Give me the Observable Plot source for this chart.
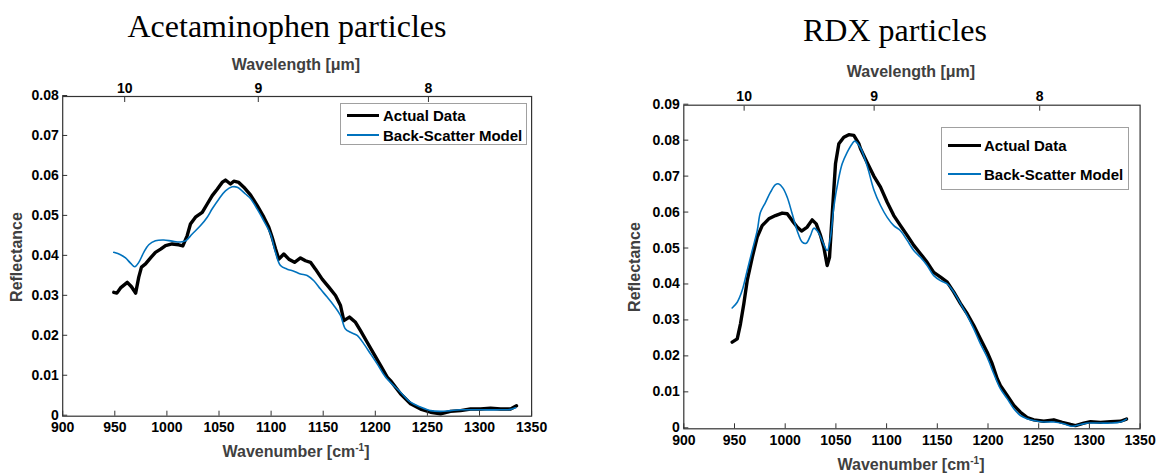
<!DOCTYPE html>
<html><head><meta charset="utf-8">
<script src="https://cdn.jsdelivr.net/npm/d3@7"></script>
<script src="https://cdn.jsdelivr.net/npm/@observablehq/plot@0.6"></script>
<style>
body{margin:0;background:#fff;}
#root{position:relative;width:1156px;height:474px;overflow:hidden;font-family:"Liberation Sans",Arial,sans-serif;}
.abs{position:absolute;}
.title{font-family:"Liberation Serif","Times New Roman",serif;font-size:32px;white-space:nowrap;transform:translateX(-50%);line-height:32px;color:#000;}
.axlab{font-weight:bold;font-size:16px;color:#404040;white-space:nowrap;transform:translate(-50%,-50%);line-height:16px;}
.ylab{transform:translate(-50%,-50%) rotate(-90deg);}
.legend{border:1px solid #a0a0a0;background:#fff;font-weight:bold;font-size:15px;color:#000;box-sizing:border-box;}
.legend .t{position:absolute;white-space:nowrap;line-height:15px;transform:translateY(-50%);}
.legend .l{position:absolute;}
sup{font-size:10px;vertical-align:6px;line-height:0;}
</style></head>
<body><div id="root">
<div class="abs title" style="left:287px;top:10px;">Acetaminophen particles</div>
<div class="abs title" style="left:895px;top:14px;">RDX particles</div>
<div class="abs axlab" style="left:296px;top:65px;">Wavelength [μm]</div>
<div class="abs axlab" style="left:911px;top:72px;">Wavelength [μm]</div>
<div class="abs axlab" style="left:296px;top:452px;">Wavenumber [cm<sup>-1</sup>]</div>
<div class="abs axlab" style="left:911px;top:465px;">Wavenumber [cm<sup>-1</sup>]</div>
<div class="abs axlab ylab" style="left:17px;top:257px;">Reflectance</div>
<div class="abs axlab ylab" style="left:635px;top:267px;">Reflectance</div>
<div id="p1" class="abs" style="left:0;top:50px;"></div>
<div id="p2" class="abs" style="left:600px;top:50px;"></div>
<div class="abs legend" style="left:340px;top:103px;width:187px;height:42px;">
  <div class="l" style="left:6px;top:10px;width:32px;height:3px;background:#000;"></div>
  <div class="t" style="left:42px;top:11px;">Actual Data</div>
  <div class="l" style="left:6px;top:30px;width:32px;height:2px;background:#0072BD;"></div>
  <div class="t" style="left:42px;top:31px;">Back-Scatter Model</div>
</div>
<div class="abs legend" style="left:941px;top:127px;width:188px;height:63px;">
  <div class="l" style="left:6px;top:16px;width:33px;height:3px;background:#000;"></div>
  <div class="t" style="left:42px;top:17px;">Actual Data</div>
  <div class="l" style="left:6px;top:45px;width:33px;height:2px;background:#0072BD;"></div>
  <div class="t" style="left:42px;top:46px;">Back-Scatter Model</div>
</div>
</div>
<script>
// ---- shared axis ticks ----
const xTicks = [900, 950, 1000, 1050, 1100, 1150, 1200, 1250, 1300, 1350];
const topTickWn = [959.5, 1087.7, 1251];
const topTickLabels = ["10", "9", "8"];
const acetYTicks = [0, 0.01, 0.02, 0.03, 0.04, 0.05, 0.06, 0.07, 0.08];
const rdxYTicks = [0, 0.01, 0.02, 0.03, 0.04, 0.05, 0.06, 0.07, 0.08, 0.09];

// ---- Acetaminophen: actual data ----
const acetActualWn = [949,952,955.5,962,966,970,973,975.6,979.5,984.3,989,994,998.7,1005,1011.4,1015.3,1019.5,1022.6,1027.4,1033.9,1038.7,1043.5,1048.3,1053,1056.2,1061,1064.2,1069,1073.8,1080.2,1086.7,1093,1097.8,1101,1104.2,1107.4,1112.2,1117,1122.5,1128.2,1133,1137.8,1142.6,1149,1155.4,1161.8,1166.6,1169.8,1175.2,1181,1185.8,1192.2,1198.6,1205,1211.4,1214.6,1224.2,1233.8,1243.4,1253,1262.6,1272.2,1281.8,1291.4,1301,1310.6,1320.2,1329.8,1335.5];
const acetActualR = [0.0310,0.0308,0.0321,0.0335,0.0324,0.0308,0.0348,0.0373,0.0381,0.0396,0.0410,0.0418,0.0427,0.0431,0.0429,0.0426,0.0452,0.0481,0.0498,0.0510,0.0531,0.0552,0.0568,0.0585,0.0591,0.0581,0.0588,0.0585,0.0573,0.0554,0.0527,0.0498,0.0473,0.0448,0.0419,0.0393,0.0406,0.0393,0.0385,0.0396,0.0389,0.0385,0.0368,0.0343,0.0323,0.0302,0.0277,0.0239,0.0248,0.0235,0.0214,0.0185,0.0156,0.0127,0.0098,0.0089,0.0056,0.0031,0.0018,0.0010,0.0006,0.0012,0.0014,0.0018,0.0018,0.0020,0.0018,0.0018,0.0026];
// ---- Acetaminophen: back-scatter model ----
const acetModelWn = [949,955.5,960.3,965.1,969.2,973,977.8,982.6,989,997,1005,1013,1018,1024.3,1032.3,1038.7,1043.5,1049.8,1056.2,1062.7,1067.5,1075.4,1080.2,1086.7,1093,1099.4,1104.2,1109,1115.4,1121.8,1128.2,1134.6,1141,1147.4,1153.8,1160.2,1166.6,1171.4,1176.2,1182.6,1189,1195.4,1201.8,1209.8,1224.2,1233.8,1243.4,1253,1262.6,1272.2,1281.8,1301,1320.2,1329.8,1334.6];
const acetModelR = [0.0410,0.0404,0.0396,0.0383,0.0374,0.0385,0.0410,0.0429,0.0439,0.0441,0.0438,0.0436,0.0439,0.0456,0.0477,0.0498,0.0519,0.0543,0.0564,0.0574,0.0573,0.0556,0.0545,0.0518,0.0489,0.0456,0.0410,0.0377,0.0368,0.0363,0.0356,0.0352,0.0339,0.0318,0.0298,0.0277,0.0252,0.0218,0.0210,0.0202,0.0181,0.0156,0.0131,0.0098,0.0060,0.0035,0.0023,0.0014,0.0012,0.0014,0.0016,0.0016,0.0016,0.0017,0.0021];

// ---- RDX: actual data ----
const rdxActualWn = [947.7,952.7,955.9,959.2,962.5,967.5,972.4,977.3,983.8,990.4,997,1002,1006.9,1011.8,1016.1,1021.7,1026.6,1030.6,1034.8,1038.1,1041.4,1043.7,1046.4,1049.6,1052.9,1057.8,1062.7,1067.7,1072.6,1074.3,1080.9,1087.4,1094,1100.6,1107.1,1113.7,1120.3,1126.8,1133.4,1140,1146.5,1153.2,1159.8,1166.3,1172.9,1179.5,1186,1192.6,1199.2,1204.1,1209.1,1212.3,1218.9,1225.5,1232,1238.7,1245.2,1255,1264.9,1273.2,1281.4,1286.3,1294.5,1301.1,1311,1320.8,1330.7,1336.6];
const rdxActualR = [0.0241,0.0250,0.0292,0.0348,0.0412,0.0477,0.0533,0.0565,0.0584,0.0593,0.0600,0.0598,0.0579,0.0561,0.0550,0.0561,0.0581,0.0570,0.0538,0.0505,0.0454,0.0477,0.0598,0.0737,0.0793,0.0811,0.0818,0.0816,0.0793,0.0779,0.0740,0.0703,0.0672,0.0630,0.0593,0.0565,0.0538,0.0510,0.0487,0.0463,0.0435,0.0422,0.0408,0.0380,0.0348,0.0320,0.0287,0.0250,0.0213,0.0181,0.0139,0.0120,0.0093,0.0065,0.0046,0.0031,0.0025,0.0021,0.0025,0.0018,0.0012,0.0009,0.0016,0.0020,0.0018,0.0020,0.0021,0.0027];
// ---- RDX: back-scatter model ----
const rdxModelWn = [947.7,952.7,957.6,962.5,967.5,972.4,975.6,980.6,985.5,990.4,993.7,997.6,1002,1006.9,1011.8,1016.8,1020.7,1025,1028.2,1032.5,1037.1,1041.4,1044.7,1047.9,1052.3,1056.2,1061.1,1066.1,1068.6,1074.3,1080.9,1087.4,1094,1100.6,1107.1,1113.7,1120.3,1126.8,1133.4,1140,1146.5,1153.2,1159.8,1166.3,1172.9,1179.5,1186,1192.6,1199.2,1205.7,1212.3,1218.9,1225.5,1232,1238.7,1245.2,1255,1264.9,1274.8,1283.1,1291.2,1299.5,1311,1320.8,1330.7,1336.6];
const rdxModelR = [0.0336,0.0352,0.0385,0.0440,0.0496,0.0551,0.0602,0.0630,0.0658,0.0679,0.0681,0.0670,0.0644,0.0598,0.0551,0.0519,0.0516,0.0538,0.0558,0.0547,0.0519,0.0496,0.0533,0.0616,0.0690,0.0737,0.0769,0.0793,0.0800,0.0781,0.0730,0.0665,0.0621,0.0588,0.0565,0.0551,0.0524,0.0496,0.0477,0.0454,0.0426,0.0412,0.0403,0.0380,0.0348,0.0315,0.0278,0.0236,0.0199,0.0153,0.0111,0.0084,0.0056,0.0037,0.0028,0.0023,0.0019,0.0019,0.0014,0.0007,0.0012,0.0016,0.0016,0.0016,0.0019,0.0027];

const topMap = new Map(topTickWn.map((w, i) => [w, topTickLabels[i]]));
const fmtY = d => d === 0 ? "0" : d.toFixed(2);

function makePlot(o) {
  const actual = o.wnA.map((w, i) => ({w, r: o.rA[i]}));
  const model = o.wnM.map((w, i) => ({w, r: o.rM[i]}));
  return Plot.plot({
    width: o.width, height: o.height,
    marginLeft: o.ml, marginRight: o.mr, marginTop: o.mt, marginBottom: o.mb,
    style: {fontFamily: "'Liberation Sans', Arial, sans-serif", fontSize: "14px", fontWeight: "bold", color: "#000", background: "transparent", overflow: "visible"},
    x: {domain: [900, 1350]},
    y: {domain: [0, o.yTicks[o.yTicks.length - 1]]},
    marks: [
      Plot.line(actual, {x: "w", y: "r", stroke: "#000", strokeWidth: 3.4, strokeLinejoin: "round"}),
      Plot.line(model, {x: "w", y: "r", stroke: "#0072BD", strokeWidth: 1.6, curve: "catmull-rom"}),
      Plot.frame({stroke: "#333", strokeWidth: 1.2}),
      Plot.axisX(xTicks, {anchor: "bottom", tickSize: -5, tickPadding: 11, label: null, tickFormat: d => String(d), stroke: "#333", fill: "#000"}),
      Plot.axisX(topTickWn, {anchor: "top", tickSize: -5, tickPadding: 9, label: null, tickFormat: d => topMap.get(d), stroke: "#333", fill: "#000"}),
      Plot.axisY(o.yTicks, {anchor: "left", tickSize: -5, tickPadding: 9, dy: -1, label: null, tickFormat: fmtY, stroke: "#333", fill: "#000"})
    ]
  });
}

document.getElementById("p1").append(makePlot({
  wnA: acetActualWn, rA: acetActualR, wnM: acetModelWn, rM: acetModelR, yTicks: acetYTicks,
  width: 570, height: 424, ml: 62.2, mr: 38.9, mt: 46, mb: 58.3
}));
document.getElementById("p2").append(makePlot({
  wnA: rdxActualWn, rA: rdxActualR, wnM: rdxModelWn, rM: rdxModelR, yTicks: rdxYTicks,
  width: 556, height: 424, ml: 83.3, mr: 16.4, mt: 54.7, mb: 45.7
}));
</script>
</body></html>
